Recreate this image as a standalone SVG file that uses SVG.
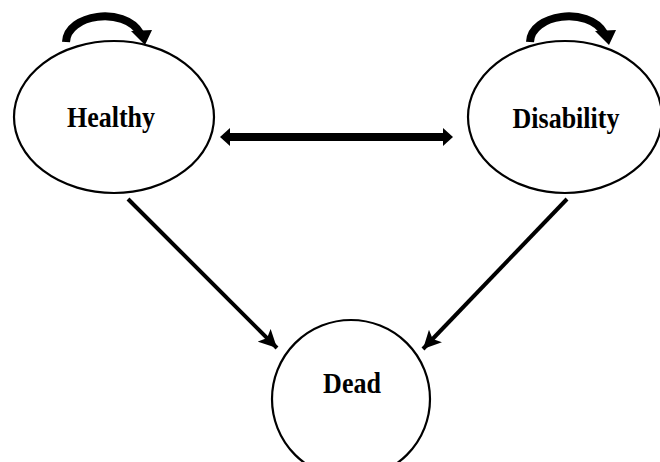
<svg xmlns="http://www.w3.org/2000/svg" width="660" height="462" viewBox="0 0 660 462">
<defs>
<style>
.node{fill:#fff;stroke:#000;stroke-width:2.2}
.lbl{font-family:"Liberation Serif","Times New Roman",serif;font-weight:bold;font-size:26px;fill:#000;text-anchor:middle}
.edge{fill:none;stroke:#000;stroke-width:4}
.loop{fill:none;stroke:#000;stroke-width:8}
.head{fill:#000}
</style>
<marker id="ah" markerUnits="userSpaceOnUse" markerWidth="20" markerHeight="18" refX="18" refY="9" orient="auto">
<path d="M0,0 L18,9 L0,18 L4,9 z" fill="#000"/>
</marker>
</defs>
<g id="healthy">
<ellipse class="node" cx="114" cy="117" rx="100" ry="76"/>
<text class="lbl" transform="translate(111,127) scale(1,1.1)">Healthy</text>
</g>
<g id="disability">
<ellipse class="node" cx="565" cy="117" rx="97" ry="76"/>
<text class="lbl" transform="translate(566,128) scale(1,1.1)">Disability</text>
</g>
<g id="dead">
<ellipse class="node" cx="351" cy="399" rx="79" ry="79"/>
<text class="lbl" transform="translate(352,393) scale(1,1.1)">Dead</text>
</g>
<g id="connectors">
<g id="loop-healthy">
<path class="loop" d="M66,42 C67,14 124,6 140,33"/>
<polygon class="head" points="131,31 152,30 145,45"/>
</g>
<g id="loop-disability">
<path class="loop" d="M530,42 C531,14 588,6 604,33"/>
<polygon class="head" points="595,31 616,30 609,45"/>
</g>
<g id="healthy-disability">
<line x1="228" y1="137" x2="445" y2="137" stroke="#000" stroke-width="8"/>
<polygon class="head" points="220,137 230,128 230,146"/>
<polygon class="head" points="453,137 443,128 443,146"/>
</g>
<line class="edge" x1="128" y1="199" x2="277" y2="348" marker-end="url(#ah)"/>
<line class="edge" x1="567" y1="199" x2="423" y2="349" marker-end="url(#ah)"/>
</g>
</svg>
